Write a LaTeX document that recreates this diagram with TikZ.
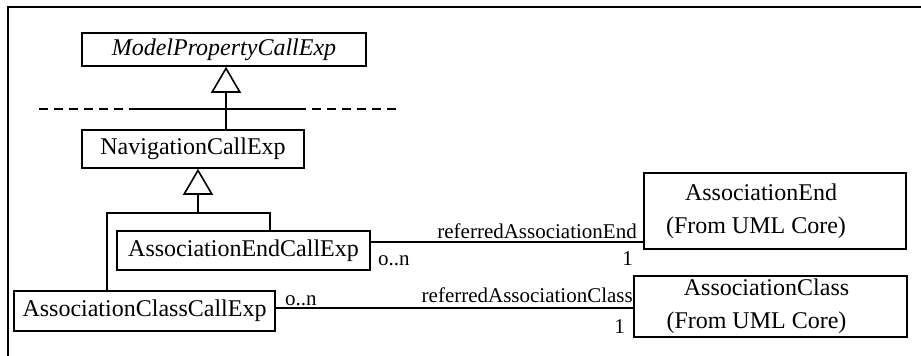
\documentclass[tikz,border=0pt]{standalone}
\usepackage{fontspec}
\setmainfont{Liberation Serif}
\usetikzlibrary{arrows.meta}
\begin{document}
\begin{tikzpicture}[x=1pt,y=-1pt,
  box/.style={draw,line width=1.6pt,inner sep=0pt,align=center,font=\fontsize{24}{33}\selectfont},
  wire/.style={line width=1.6pt},
  dashwire/.style={line width=1.6pt,dash pattern=on 9pt off 6pt},
  gen/.style={wire,-{Triangle[open,length=26pt,width=30pt,line width=1.6pt]}},
  lbl/.style={inner sep=0pt,font=\fontsize{21}{24}\selectfont}]
\useasboundingbox (0,0) rectangle (921,356);
% frame
\coordinate (f1) at (921,7);
\coordinate (f2) at (8,7);
\coordinate (f3) at (8,356);
\draw[wire] (f1) -- (f2) -- (f3);
% classes
\node[box,font=\fontsize{24}{33}\selectfont\itshape,minimum width=284pt,minimum height=33pt] (mpce) at (224,49.5) {ModelPropertyCallExp};
\node[box,minimum width=222pt,minimum height=38pt] (nav) at (193,149) {NavigationCallExp};
\node[box,minimum width=253pt,minimum height=39pt] (aece) at (243.5,250.5) {AssociationEndCallExp};
\node[box,minimum width=261pt,minimum height=40pt] (acce) at (144.5,311) {AssociationClassCallExp};
\node[box,minimum width=262pt,minimum height=76pt] (ae) at (775,211) {AssociationEnd\hspace*{28pt}\\(From UML Core)\hspace*{38pt}};
\node[box,minimum width=273pt,minimum height=61pt] (ac) at (770.5,306.5) {AssociationClass\hspace*{8pt}\\(From UML Core)\hspace*{28pt}};
% generalization 1
\coordinate (g1) at (226,0);
\draw[gen] (nav.north -| g1) -- (mpce.south -| g1);
% package separator
\coordinate (d1) at (39,109);
\coordinate (d2) at (137,109);
\coordinate (d3) at (297,109);
\coordinate (d4) at (396,109);
\draw[dashwire] (d1) -- (d2);
\draw[wire] (d2) -- (d3);
\draw[dashwire] (d3) -- (d4);
% generalization 2
\coordinate (j) at (198,213);
\coordinate (e1) at (270,213);
\coordinate (e2) at (107,213);
\draw[gen] (j) -- (nav.south -| j);
\draw[wire] (aece.north -| e1) -- (e1) -- (e2) -- (acce.north -| e2);
% associations
\coordinate (r1) at (0,242);
\coordinate (r2) at (0,308);
\draw[wire] (aece.east |- r1) -- (ae.west |- r1);
\draw[wire] (acce.east |- r2) -- (ac.west |- r2);
\node[lbl,anchor=base east] (l1) at (637,238) {referredAssociationEnd};
\node[lbl,anchor=base west] (m1) at (378,265) {o..n};
\node[lbl,anchor=base east] (n1) at (633,265) {1};
\node[lbl,anchor=base east] (l2) at (633,302) {referredAssociationClass};
\node[lbl,anchor=base west] (m2) at (285,305) {o..n};
\node[lbl,anchor=base east] (n2) at (625,333) {1};
\end{tikzpicture}
\end{document}
